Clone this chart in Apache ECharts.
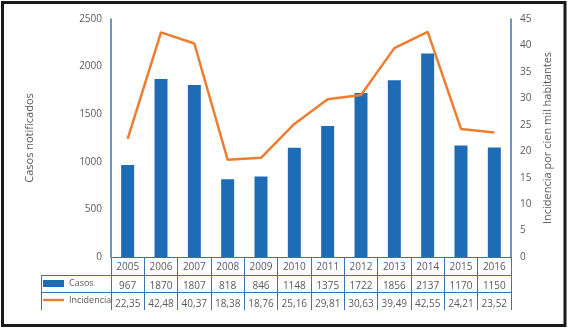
<!DOCTYPE html>
<html>
<head>
<meta charset="utf-8">
<script src="https://cdn.jsdelivr.net/npm/echarts@6/dist/echarts.min.js"></script>
<style>
	html, body { margin: 0; padding: 0; background: #fff; }
	#chart { width: 569px; height: 328px; }
</style>
</head>
<body>
<div id="chart"></div>
<script>
var years = ['2005', '2006', '2007', '2008', '2009', '2010', '2011', '2012', '2013', '2014', '2015', '2016'];
/* casos notificados */
var casos = [967, 1870, 1807, 818, 846, 1148, 1375, 1722, 1856, 2137, 1170, 1150];
/* incidencia por cien mil habitantes */
var incidencia = [22.35, 42.48, 40.37, 18.38, 18.76, 25.16, 29.81, 30.63, 39.49, 42.55, 24.21, 23.52];

var blue = '#1f6cb6';
var orange = '#ed7d31';
var lineBlue = '#3a74b0';
var textGrey = '#595959';
var font = 'Open Sans';

window.onload = function() {
	var chart = echarts.init(document.getElementById('chart'));

	// label de tabla: usa coma decimal
	function fmt(v) {
		return String(v.toFixed(2)).replace('.', ',');
	}

	var option = {
		animation: false,
		textStyle: { fontFamily: font },
		grid: { left: 111, right: 58, top: 19, bottom: 71 },
		legend: {
			orient: 'vertical',
			left: 43,
			top: 279,
			padding: 0,
			itemWidth: 21,
			itemHeight: 7,
			itemGap: 7.5,
			textStyle: { fontSize: 9, color: textGrey, fontFamily: font },
			data: [
				{ name: 'Casos', icon: 'rect' },
				{ name: 'Incidencia', icon: 'path://M0,0H22V2.5H0Z' }
			]
		},
		xAxis: [{
				type: 'category',
				data: years,
				axisLine: { show: true, lineStyle: { color: lineBlue, width: 1 } },
				axisTick: { show: true, length: 53, interval: 0, lineStyle: { color: lineBlue, width: 1 } },
				axisLabel: { interval: 0, margin: 5, fontSize: 10, color: textGrey, fontFamily: font }
			},
			{
				type: 'category',
				data: years,
				position: 'bottom',
				offset: 19,
				axisLine: { show: false },
				axisTick: { show: false },
				axisLabel: {
					interval: 0, margin: 5, fontSize: 10, color: textGrey, fontFamily: font,
					formatter: function(v, i) { return String(casos[i]); }
				}
			},
			{
				type: 'category',
				data: years,
				position: 'bottom',
				offset: 37,
				axisLine: { show: false },
				axisTick: { show: false },
				axisLabel: {
					interval: 0, margin: 5, fontSize: 10, color: textGrey, fontFamily: font,
					formatter: function(v, i) { return fmt(incidencia[i]); }
				}
			}
		],
		yAxis: [{
				type: 'value',
				min: 0,
				max: 2500,
				interval: 500,
				name: 'Casos notificados',
				nameLocation: 'middle',
				nameRotate: 90,
				nameGap: 76,
				nameTextStyle: { fontSize: 11, color: textGrey, fontFamily: font },
				axisLine: { show: true, lineStyle: { color: lineBlue, width: 1.5 } },
				axisTick: { show: false },
				splitLine: { show: false },
				axisLabel: {
					fontSize: 10, color: textGrey, margin: 9, fontFamily: font,
					formatter: function(v) { return String(v); }
				}
			},
			{
				type: 'value',
				min: 0,
				max: 45,
				interval: 5,
				name: 'Incidencia por cien mil habitantes',
				nameLocation: 'middle',
				nameRotate: 90,
				nameGap: 18,
				nameTextStyle: { fontSize: 11, color: textGrey, fontFamily: font },
				axisLine: { show: true, lineStyle: { color: lineBlue, width: 1.5 } },
				axisTick: { show: false },
				splitLine: { show: false },
				axisLabel: { fontSize: 10, color: textGrey, margin: 9, fontFamily: font }
			}
		],
		series: [{
				name: 'Casos',
				type: 'bar',
				barWidth: 13,
				itemStyle: { color: blue },
				data: casos
			},
			{
				name: 'Incidencia',
				type: 'line',
				yAxisIndex: 1,
				symbol: 'none',
				lineStyle: { color: orange, width: 2.5 },
				itemStyle: { color: orange },
				data: incidencia
			}
		],
		graphic: [
			/* marco */
			{ type: 'rect', shape: { x: 2.5, y: 2.5, width: 562.5, height: 323 }, style: { fill: null, stroke: '#1a1a1a', lineWidth: 3 }, silent: true },
			/* lineas de tabla */
			{ type: 'line', shape: { x1: 41, y1: 275.5, x2: 511, y2: 275.5 }, style: { stroke: lineBlue, lineWidth: 1 } },
			{ type: 'line', shape: { x1: 41, y1: 292.5, x2: 511, y2: 292.5 }, style: { stroke: lineBlue, lineWidth: 1 } },
			{ type: 'line', shape: { x1: 41.5, y1: 275.5, x2: 41.5, y2: 310 }, style: { stroke: lineBlue, lineWidth: 1 } }
		]
	};
	chart.setOption(option);
};
</script>
</body>
</html>
